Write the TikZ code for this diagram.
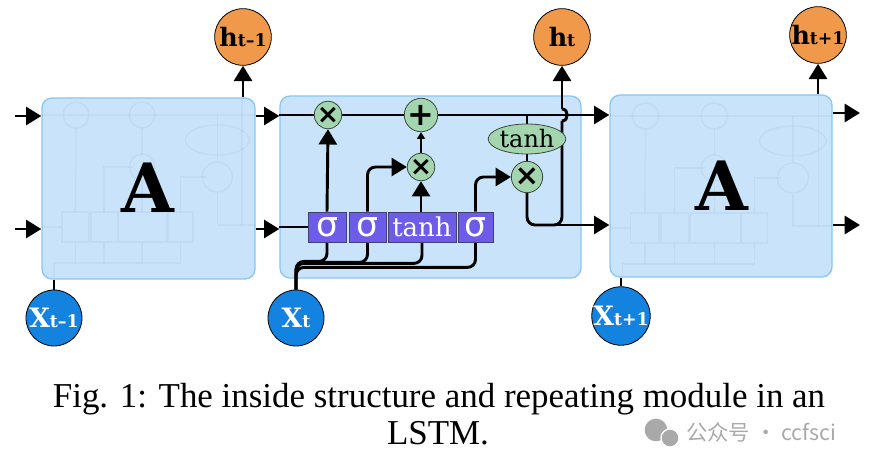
\documentclass[tikz,border=0pt]{standalone}
\usepackage{fontspec}
\setmainfont{Liberation Serif}
\newfontfamily\slab{DejaVu Serif}
\newfontfamily\dsans{DejaVu Sans}
\newfontfamily\cjk{Noto Sans CJK SC}
\usetikzlibrary{arrows.meta,shapes.geometric,calc}
\definecolor{boxfill}{HTML}{C9E3FB}
\definecolor{boxdraw}{HTML}{8CC6F4}
\definecolor{horange}{HTML}{F0994A}
\definecolor{xblue}{HTML}{1483E0}
\definecolor{gatefill}{HTML}{6C5CE7}
\definecolor{gatedraw}{HTML}{40407A}
\definecolor{opfill}{HTML}{A3D6AF}
\definecolor{opdraw}{HTML}{3A4A3E}
\definecolor{wmgray}{HTML}{A9A9A9}
\definecolor{ghostc}{HTML}{5E7E9C}
\pgfdeclarelayer{bg}
\pgfdeclarelayer{fg}
\pgfsetlayers{bg,main,fg}
\tikzset{
  cell/.style={draw=boxdraw, fill=boxfill, rounded corners=7.5pt, line width=1pt, inner sep=0pt},
  hnode/.style={circle, draw=black, line width=0.6pt, fill=horange, minimum size=42.5pt, inner sep=0pt, font=\slab\bfseries},
  xnode/.style={circle, draw=black, line width=0.6pt, fill=xblue, text=white, minimum size=42pt, inner sep=0pt, font=\slab\bfseries},
  gate/.style={draw=gatedraw, fill=gatefill, text=white, minimum height=22.5pt, inner sep=0pt, line width=0.6pt},
  op/.style={circle, draw=opdraw, fill=opfill, minimum size=20.25pt, inner sep=0pt, line width=0.6pt, font=\dsans\bfseries},
  wire/.style={line width=2.2pt, black},
  midwire/.style={line width=1.6pt, black},
  thinwire/.style={line width=1.2pt, black},
  arr/.style={-{Triangle[length=11.5pt,width=13.5pt]}},
  smallarr/.style={-{Triangle[length=5pt,width=6pt]}},
  ghost/.style={draw=ghostc, opacity=0.08, line width=1.1pt},
}
\newcommand{\hlab}[1]{{\fontsize{19}{19}\selectfont h}{\fontsize{13}{13}\selectfont #1}}
\newcommand{\xlab}[1]{{\fontsize{20}{20}\selectfont X}{\fontsize{13}{13}\selectfont #1}}
% faint copy of the cell structure, local x measured from the cell's left edge
\newcommand{\ghostcell}{%
  \draw[ghost] (0,115) -- (301,115);
  \draw[ghost] (0,227) -- (28,227);
  \draw[ghost] (47,212) -- (48,128);
  \draw[ghost] (87,212) -- (87,167) -- (128,167);
  \draw[ghost] (141,212) -- (141,180);
  \draw[ghost] (141,154) -- (141,128);
  \draw[ghost] (195,212) -- (195,177) -- (231,177);
  \draw[ghost] (247,115) -- (247,161);
  \draw[ghost] (247,193) -- (247,225) -- (301,225);
  \draw[ghost] (282,225) -- (282,82);
  \draw[ghost] (17,282) -- (17,263) -- (195,263);
  \draw[ghost] (47,263) -- (47,242);
  \draw[ghost] (87,263) -- (87,242);
  \draw[ghost] (141,263) -- (141,242);
  \draw[ghost] (195,263) -- (195,242);
  \draw[ghost] (28,212) rectangle (66,242);
  \draw[ghost] (69,212) rectangle (106,242);
  \draw[ghost] (108,212) rectangle (176,242);
  \draw[ghost] (178,212) rectangle (213,242);
  \draw[ghost] (48,115) ellipse[x radius=18, y radius=13];
  \draw[ghost] (141,115) ellipse[x radius=18, y radius=13];
  \draw[ghost] (141,167) ellipse[x radius=18, y radius=13];
  \draw[ghost] (247,177) ellipse[x radius=21, y radius=15];
  \draw[ghost] (247,140) ellipse[x radius=45, y radius=15];
}
\begin{document}
\begin{tikzpicture}[x=0.75pt,y=-0.75pt]
\useasboundingbox (0,0) rectangle (879,467);

\begin{pgfonlayer}{bg}
  \node[cell, minimum width=159.75pt, minimum height=135.75pt] (A1) at (148.5,188.5) {};
  \node[cell, minimum width=225.75pt, minimum height=136.5pt] (A2) at (430.5,187) {};
  \node[cell, minimum width=166.5pt, minimum height=136.5pt] (A3) at (721,186) {};
  \begin{scope}
    \clip[rounded corners=7.5pt] (A1.south west) rectangle (A1.north east);
    \begin{scope}[xshift=31.5pt, xscale=0.71]
      \ghostcell
    \end{scope}
  \end{scope}
  \begin{scope}
    \clip[rounded corners=7.5pt] (A3.south west) rectangle (A3.north east);
    \begin{scope}[xshift=457.5pt, xscale=0.74, yshift=-0.75pt]
      \ghostcell
    \end{scope}
  \end{scope}
\end{pgfonlayer}

\begin{pgfonlayer}{fg}
  \node[font=\slab\bfseries\fontsize{51}{51}\selectfont] (LA1) at (148,188) {A};
  \node[font=\slab\bfseries\fontsize{51}{51}\selectfont] (LA3) at (722,186) {A};
  % gates
  \node[gate, minimum width=28.5pt] (s1) at (327,227) {\dsans\fontsize{26}{26}\selectfont σ};
  \node[gate, minimum width=27.75pt] (s2) at (367.5,227) {\dsans\fontsize{26}{26}\selectfont σ};
  \node[gate, minimum width=51pt] (tg) at (422,227) {\slab\fontsize{19.5}{19.5}\selectfont tanh};
  \node[gate, minimum width=26.25pt] (s3) at (475.5,227) {\dsans\fontsize{26}{26}\selectfont σ};
  % pointwise ops
  \node[op] (m1) at (328,115) {\fontsize{20}{20}\selectfont ×};
  \node[op] (add) at (421,115) {\fontsize{24}{24}\selectfont +};
  \node[op] (m2) at (421,167) {\fontsize{20}{20}\selectfont ×};
  \node[op, minimum size=23.5pt] (m3) at (527,177) {\fontsize{22}{22}\selectfont ×};
  \node[ellipse, draw=opdraw, fill=opfill, line width=0.6pt, minimum width=50pt, minimum height=22.5pt, inner sep=0pt, font=\slab\fontsize{18}{18}\selectfont] (th) at (527,139) {tanh};
  % outputs and inputs
  \node[hnode] (ht1) at (243,37) {\hlab{t–1}};
  \node[hnode] (ht) at (562,37) {\hlab{t}};
  \node[hnode] (ht2) at (818,35) {\hlab{t+1}};
  \node[xnode] (xt1) at (54,318) {\xlab{t–1}};
  \node[xnode] (xt) at (296,318) {\xlab{t}};
  \node[xnode] (xt2) at (621,316) {\xlab{t+1}};
\end{pgfonlayer}

% coordinates
\coordinate (inU) at (15,116);
\coordinate (inL) at (15,229);
\coordinate (jL) at (562,225);
\coordinate (hopB) at (562,121);
\coordinate (hopT) at (562,109);
\coordinate (oU) at (860,113);
\coordinate (oL) at (860,225);

% left inputs
\draw[wire,arr] (inU) -- (inU -| A1.west);
\draw[wire,arr] (inL) -- (inL -| A1.west);
% between A1 and A2
\draw[wire,arr] (A1.east |- inU) -- (A2.west |- inU);
\draw[wire,arr] (A1.east |- inL) -- (A2.west |- inL);
% cell state line through the middle cell
\draw[wire,arr] (A2.west |- m1) -- (A3.west |- m1);
% hidden input into the gates
\draw[thinwire] (A2.west |- s1) -- (s1.west);
% gate connections
\draw[wire,arr] (s1.north) -- (m1.south);
\draw[wire,arr,rounded corners=6pt] (s2.north) |- (m2.west);
\draw[wire,arr] (m2 |- tg.north) -- (m2.south);
\draw[thinwire,smallarr] (m2.north) -- (add.south);
\draw[wire,arr,rounded corners=6pt] (s3.north) |- (m3.west);
\draw[midwire] (th.north |- m1) -- (th.north);
\draw[midwire] (th.south) -- (m3.north);
% output path
\draw[wire,rounded corners=6pt] (m3.south) |- (jL) -- (hopB);
\draw[wire] (hopB) .. controls (569,121) and (569,109) .. (hopT);
\draw[wire,arr] (hopT) -- (ht.south);
\draw[wire,arr] (jL) ++(-14,0) -- (A3.west |- jL);
% input bus from x_t
\draw[wire,rounded corners=6pt] (xt.north) |- ($(s1.south)+(0,19)$) -- (s1.south);
\draw[wire,rounded corners=6pt] (xt.north) |- ($(s2.south)+(0,20)$) -- (s2.south);
\draw[wire,rounded corners=6pt] (xt.north) |- ($(tg.south)+(0,21)$) -- (tg.south);
\draw[wire,rounded corners=6pt] (xt.north) |- ($(s3.south)+(0,25)$) -- (s3.south);
% right outputs
\draw[wire,arr] (A3.east |- oU) -- (oU);
\draw[wire,arr] (A3.east |- oL) -- (oL);
% h outputs of outer cells
\draw[wire,arr] (ht1 |- A1.north) -- (ht1.south);
\draw[wire,arr] (ht2 |- A3.north) -- (ht2.south);
% x inputs of outer cells
\draw[wire] (xt1.north) -- (xt1 |- A1.south);
\draw[wire] (xt2.north) -- (xt2 |- A3.south);

% caption
\node[anchor=base, font=\fontsize{26.2}{26.2}\selectfont] (cap1) at (439,407) {Fig. 1: The inside structure and repeating module in an};
\node[anchor=base, font=\fontsize{26.2}{26.2}\selectfont] (cap2) at (438,444) {LSTM.};

% watermark
\fill[wmgray] (656,430) circle[radius=8.5pt];
\filldraw[wmgray, draw=white, line width=1pt] (670,438) circle[radius=6.8pt];
\node[anchor=west, text=wmgray, font=\cjk\fontsize{16}{16}\selectfont, inner sep=0pt] (wm) at (686,432) {公众号 · ccfsci};
\end{tikzpicture}
\end{document}
